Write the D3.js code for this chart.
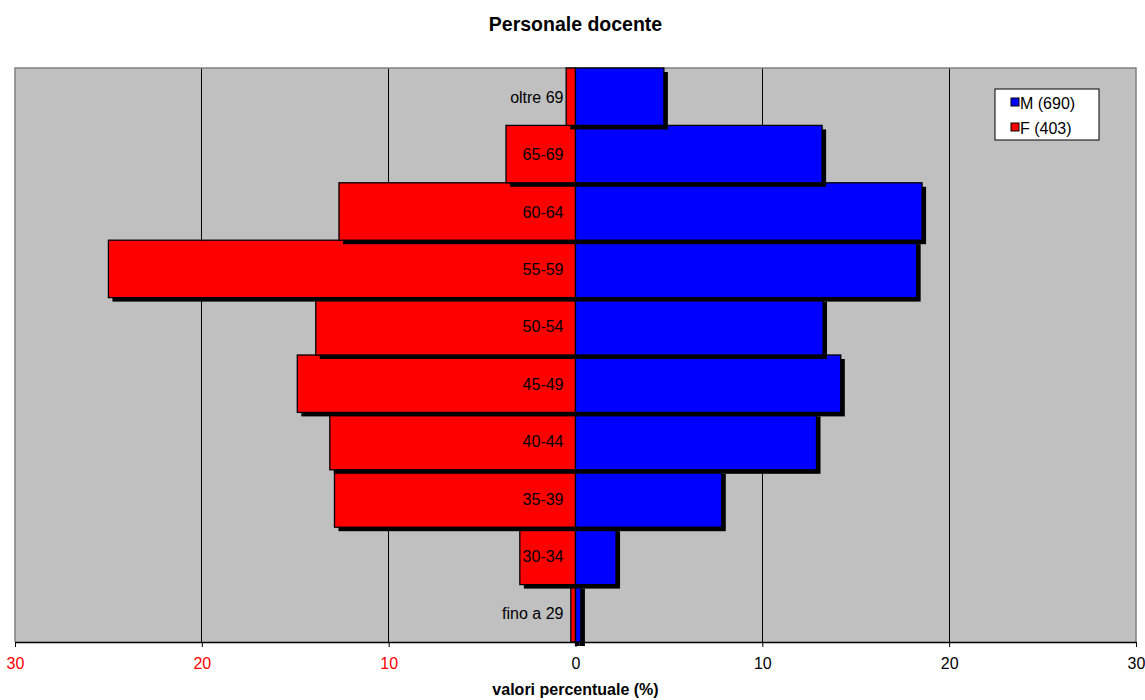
<!DOCTYPE html>
<html>
<head>
<meta charset="utf-8">
<script src="https://cdn.jsdelivr.net/npm/d3@7"></script>
<style>
  html, body { margin: 0; padding: 0; background: #fff; }
  text { font-family: "Liberation Sans", Arial, sans-serif; }
</style>
</head>
<body>
<svg id="chart" width="1145" height="700"></svg>
<script>
// Age bands, bottom to top
const categories = ["fino a 29", "30-34", "35-39", "40-44", "45-49", "50-54", "55-59", "60-64", "65-69", "oltre 69"];
// Percentages per age band
const maleValues   = [0.29, 2.17, 7.83, 12.9, 14.2, 13.25, 18.26, 18.55, 13.2, 4.73];
const femaleValues = [0.25, 2.98, 12.9, 13.15, 14.89, 13.9, 25.0, 12.66, 3.72, 0.5];
const seriesLabels = ["M (690)", "F (403)"];
const tickValues = [-30, -20, -10, 0, 10, 20, 30];

const svg = d3.select("#chart");
const W = 1145, H = 700;
const m = { left: 15, right: 9, top: 68, bottom: 58 };

const x = d3.scaleLinear().domain([-30, 30]).range([m.left, W - m.right]);
const y = d3.scaleBand().domain(categories.slice().reverse()).range([m.top, H - m.bottom]).padding(0);

// Plot background
svg.append("rect")
  .attr("x", x(-30)).attr("y", m.top)
  .attr("width", x(30) - x(-30)).attr("height", H - m.bottom - m.top)
  .attr("fill", "#c0c0c0");

// Vertical gridlines
svg.append("g").selectAll("line")
  .data(tickValues.filter(t => Math.abs(t) !== 30 && t !== 0))
  .join("line")
  .attr("x1", d => x(d)).attr("x2", d => x(d))
  .attr("y1", m.top).attr("y2", H - m.bottom)
  .attr("stroke", "#000").attr("stroke-width", 1).attr("shape-rendering", "crispEdges");

// Plot frame (left, top, right)
svg.append("path")
  .attr("d", `M${x(-30)},${H - m.bottom}V${m.top}H${x(30)}V${H - m.bottom}`)
  .attr("fill", "none").attr("stroke", "#808080").attr("stroke-width", 1.5);

// Bars with drop shadows, drawn bottom row first
const rows = categories.map((c, i) => ({ cat: c, m: maleValues[i], f: femaleValues[i] }));
const bars = svg.append("g");
rows.forEach(r => {
  const g = bars.append("g");
  const parts = [
    { x0: x(-r.f), x1: x(0), fill: "#ff0000" },
    { x0: x(0), x1: x(r.m), fill: "#0000ff" }
  ];
  parts.forEach(p => {
    g.append("rect")
      .attr("x", p.x0 + 4).attr("y", y(r.cat) + 4)
      .attr("width", p.x1 - p.x0).attr("height", y.bandwidth())
      .attr("fill", "#000");
  });
  parts.forEach(p => {
    g.append("rect")
      .attr("x", p.x0).attr("y", y(r.cat))
      .attr("width", p.x1 - p.x0).attr("height", y.bandwidth())
      .attr("fill", p.fill).attr("stroke", "#000").attr("stroke-width", 1.3);
  });
});

// Category labels to the left of the axis
svg.append("g").selectAll("text")
  .data(categories)
  .join("text")
  .attr("x", x(0) - 12)
  .attr("y", d => y(d) + y.bandwidth() / 2 + 6)
  .attr("text-anchor", "end")
  .attr("font-size", 16)
  .attr("fill", "#000")
  .text(d => d);

// Bottom axis
const axis = d3.axisBottom(x).tickValues(tickValues).tickSize(5).tickSizeOuter(0)
  .tickFormat(d => Math.abs(d));
const ax = svg.append("g").attr("transform", `translate(0,${H - m.bottom})`).call(axis);
ax.select(".domain").attr("stroke", "#000").attr("stroke-width", 1.5);
ax.selectAll(".tick line").attr("stroke", "#000");
ax.selectAll(".tick text")
  .attr("font-family", "Liberation Sans, Arial, sans-serif")
  .attr("font-size", 16)
  .attr("dy", 0).attr("y", 27)
  .attr("fill", d => d < 0 ? "#ff0000" : "#000");

// Titles
svg.append("text")
  .attr("x", x(0)).attr("y", 31)
  .attr("text-anchor", "middle").attr("font-size", 19.5).attr("font-weight", "bold")
  .text("Personale docente");
svg.append("text")
  .attr("x", x(0)).attr("y", 695)
  .attr("text-anchor", "middle").attr("font-size", 16).attr("font-weight", "bold")
  .text("valori percentuale (%)");

// Legend
const lg = svg.append("g").attr("transform", "translate(995,89)");
lg.append("rect").attr("width", 104).attr("height", 51)
  .attr("fill", "#fff").attr("stroke", "#000").attr("stroke-width", 1);
const legendColors = ["#0000ff", "#ff0000"];
seriesLabels.forEach((s, i) => {
  const gy = 14 + i * 25;
  lg.append("rect").attr("x", 16).attr("y", gy - 5).attr("width", 8).attr("height", 8)
    .attr("fill", legendColors[i]).attr("stroke", "#000").attr("stroke-width", 1);
  lg.append("text").attr("x", 25).attr("y", gy + 6)
    .attr("font-size", 16).text(s);
});
</script>
</body>
</html>
